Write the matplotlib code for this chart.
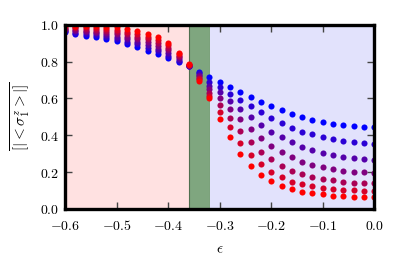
import matplotlib
matplotlib.use("Agg")
import matplotlib.pyplot as plt
from matplotlib.ticker import FuncFormatter

plt.rcParams['mathtext.fontset'] = 'cm'

eps = [-0.60, -0.58, -0.56, -0.54, -0.52, -0.50, -0.48, -0.46, -0.44, -0.42,
       -0.40, -0.38, -0.36, -0.34, -0.32, -0.30, -0.28, -0.26, -0.24, -0.22,
       -0.20, -0.18, -0.16, -0.14, -0.12, -0.10, -0.08, -0.06, -0.04, -0.02, 0.00]

# one series per system size, blue -> red
s1 = [.962, .951, .942, .933, .922, .910, .895, .880, .860, .840, .819, .797, .776,
      .746, .716, .688, .661, .634, .607, .583, .560, .538, .516, .500, .484, .471,
      .462, .455, .449, .446, .443]
s2 = [.968, .958, .951, .943, .933, .923, .909, .894, .875, .856, .833, .806, .778,
      .738, .690, .662, .625, .589, .557, .524, .493, .466, .442, .420, .406, .390,
      .379, .368, .363, .357, .355]
s3 = [.974, .966, .960, .953, .945, .935, .922, .908, .890, .871, .847, .814, .779,
      .729, .668, .634, .587, .542, .499, .457, .420, .390, .363, .337, .321, .306,
      .293, .284, .276, .270, .268]
s4 = [.979, .973, .968, .963, .956, .948, .936, .922, .906, .887, .861, .823, .781,
      .721, .650, .602, .542, .489, .434, .384, .344, .311, .281, .257, .239, .226,
      .215, .208, .203, .198, .196]
s5 = [.985, .981, .977, .973, .967, .961, .950, .936, .921, .902, .874, .831, .783,
      .713, .632, .567, .493, .424, .366, .311, .270, .235, .208, .190, .176, .163,
      .155, .148, .143, .140, .138]
s6 = [.991, .988, .986, .983, .979, .973, .963, .950, .936, .918, .888, .840, .784,
      .704, .614, .529, .443, .360, .293, .243, .203, .176, .148, .136, .125, .116,
      .106, .103, .100, .096, .095]
s7 = [.997, .996, .995, .993, .990, .986, .977, .964, .951, .933, .902, .848, .786,
      .696, .600, .489, .390, .299, .234, .185, .152, .127, .109, .094, .085, .080,
      .072, .069, .067, .064, .063]
series = [s1, s2, s3, s4, s5, s6, s7]

xticks = [-0.6, -0.5, -0.4, -0.3, -0.2, -0.1, 0.0]
yticks = [0.0, 0.2, 0.4, 0.6, 0.8, 1.0]
phase_edges = [-0.6, -0.359, -0.318, 0.0]

fig = plt.figure(figsize=(4.15, 2.56), dpi=100)
ax = fig.add_axes([0.157, 0.184, 0.745, 0.719])

ax.axvspan(phase_edges[0], phase_edges[1], color='#ffe1e1', lw=0, zorder=0)
ax.axvspan(phase_edges[1], phase_edges[2], facecolor='#7fa67f', edgecolor='#4f6f4f',
           lw=0.8, zorder=0)
ax.axvspan(phase_edges[2], phase_edges[3], color='#e2e2fc', lw=0, zorder=0)

n = len(series)
for k, s in enumerate(series):
    c = (k / (n - 1), 0, 1 - k / (n - 1))
    ax.plot(eps, s, 'o', color=c, ms=4.4, mew=0, zorder=2)

ax.set_xlim(-0.6, 0.0)
ax.set_ylim(0.0, 1.0)
ax.set_xticks(xticks)
ax.set_yticks(yticks)
ax.xaxis.set_major_formatter(FuncFormatter(lambda v, p: r'$%.1f$' % v))
ax.yaxis.set_major_formatter(FuncFormatter(lambda v, p: r'$%.1f$' % v))
ax.tick_params(direction='in', top=True, right=True, length=5, width=1,
               color='#444444', labelsize=10)
ax.tick_params(axis='x', pad=7)
ax.tick_params(axis='y', pad=4)
for sp in ax.spines.values():
    sp.set_linewidth(2.4)
    sp.set_zorder(5)

ax.set_xlabel(r'$\epsilon$', fontsize=11, labelpad=6)
ax.set_ylabel(r'$\overline{[|<\sigma_1^z>|]}$', fontsize=11, labelpad=6)

fig.savefig('out.png', dpi=100)
